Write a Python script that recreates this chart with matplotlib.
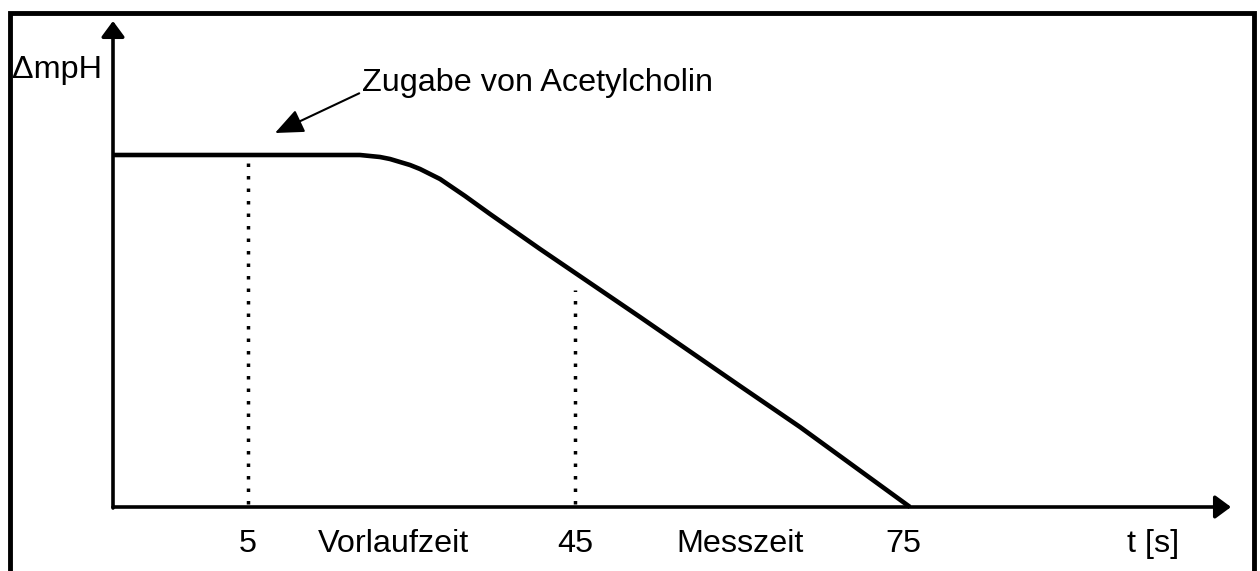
import matplotlib.pyplot as plt

plt.rcParams['font.family'] = ['Liberation Sans', 'DejaVu Sans']

# curve (arbitrary units, origin at the axis cross)
curve_x = [0, 247, 257, 267, 277, 287, 297, 307, 317, 327, 352, 377,
           427, 477, 527, 627, 687, 797]
curve_y = [352, 352, 351, 350, 348, 345, 342, 338, 333, 328, 311, 293,
           258, 224, 190, 121, 80, 0]

# dotted markers: position and height
marker_x = [135, 462]
marker_top = [347, 217]

# labels under the time axis
tick_pos = [135, 280, 462, 627, 790, 1040]
tick_labels = ['5', 'Vorlaufzeit', '45', 'Messzeit', '75', 't [s]']

fig = plt.figure(figsize=(12.6, 5.71), dpi=100)
ax = fig.add_axes([0, 0, 1, 1])
ax.set_xlim(-113, 1147)
ax.set_ylim(-64, 507)
ax.axis('off')

# frame around the picture (open at the bottom)
ax.plot([-103, -103, 1141, 1141], [-70, 494, 494, -70], color='black',
        lw=3.5, solid_joinstyle='miter', clip_on=False)

# axes with arrows
head = '-|>,head_length=0.95,head_width=0.7'
ax.annotate('', xy=(1118, 0), xytext=(0, 0),
            arrowprops=dict(arrowstyle=head, color='black', lw=2.6,
                            shrinkA=0, shrinkB=0))
ax.annotate('', xy=(0, 486), xytext=(0, -1),
            arrowprops=dict(arrowstyle=head, color='black', lw=2.6,
                            shrinkA=0, shrinkB=0))

# dotted lines
for x, top in zip(marker_x, marker_top):
    ax.plot([x, x], [3, top], color='black', lw=2.5,
            linestyle=(0, (1, 2.6)), dash_capstyle='butt')

# measurement curve
ax.plot(curve_x, curve_y, color='black', lw=3.3, solid_capstyle='butt',
        solid_joinstyle='round')

# labels
for x, lab in zip(tick_pos, tick_labels):
    ax.text(x, -37, lab, fontsize=23.3, ha='center', va='center')

ax.text(-101, 437, 'ΔmpH', fontsize=23.3, ha='left', va='center')

ax.annotate('Zugabe von Acetylcholin', xy=(162, 374), xytext=(249, 424),
            fontsize=23.3, ha='left', va='center',
            arrowprops=dict(arrowstyle='-|>,head_length=0.75,head_width=0.32',
                            color='black', lw=1.5, shrinkA=0, shrinkB=0,
                            relpos=(0, 0.2)))

fig.savefig('out.png', dpi=100)
